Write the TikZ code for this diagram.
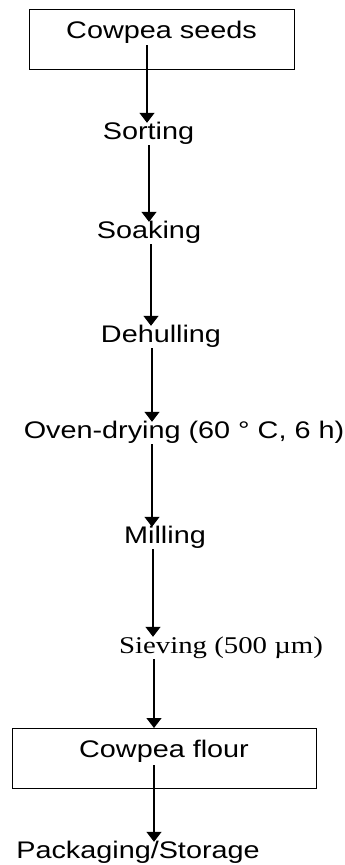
\documentclass[tikz,border=0pt]{standalone}
\usepackage{fontspec}
\setmainfont{Liberation Sans}[FakeStretch=1.2]
\newfontfamily\sievefont{Liberation Serif}[FakeStretch=1.2]
\usetikzlibrary{arrows.meta,positioning}

\begin{document}
\begin{tikzpicture}[x=1pt,y=-1pt,
  box/.style={draw,line width=1pt,inner sep=0pt,text height=29pt,text depth=31pt,anchor=north,font=\fontsize{24}{28}\selectfont},
  stepname/.style={inner sep=0pt,text height=16pt,text depth=6pt,anchor=base,font=\fontsize{24}{28}\selectfont},
  arr/.style={-{Triangle[length=10pt,width=15pt]},line width=1.3pt}
]
\useasboundingbox (0,0) rectangle (345,865);
\node[box,minimum width=265pt] (seeds) at (161.5,9) {Cowpea seeds};
\node[stepname] (sort) at (148.5,139) {Sorting};
\node[stepname] (soak) at (149,238) {Soaking};
\node[stepname] (dehull) at (161,342) {Dehulling};
\node[stepname] (oven) at (184,438) {Oven-drying (60 ° C, 6 h)};
\node[stepname] (mill) at (165,543) {Milling};
\node[stepname,font=\sievefont\fontsize{24}{28}\selectfont] (sieve) at (221,653) {Sieving (500 µm)};
\node[box,minimum width=304pt] (flour) at (164,728) {Cowpea flour};
\node[stepname] (pack) at (138,858) {Packaging/Storage};
\coordinate (seedsout) at (147,45);
\coordinate (flourout) at (154,765);
\draw[arr] (seedsout) -- (sort.north -| seedsout);
\draw[arr] (sort.south -| 149,0) -- (soak.north -| 149,0);
\draw[arr] (soak.south -| 151,0) -- (dehull.north -| 151,0);
\draw[arr] (dehull.south -| 152,0) -- (oven.north -| 152,0);
\draw[arr] (oven.south -| 152,0) -- (mill.north -| 152,0);
\draw[arr] (mill.south -| 153,0) -- (sieve.north -| 153,0);
\draw[arr] (sieve.south -| 154,0) -- (flour.north -| 154,0);
\draw[arr] (flourout) -- (pack.north -| flourout);
\end{tikzpicture}
\end{document}
